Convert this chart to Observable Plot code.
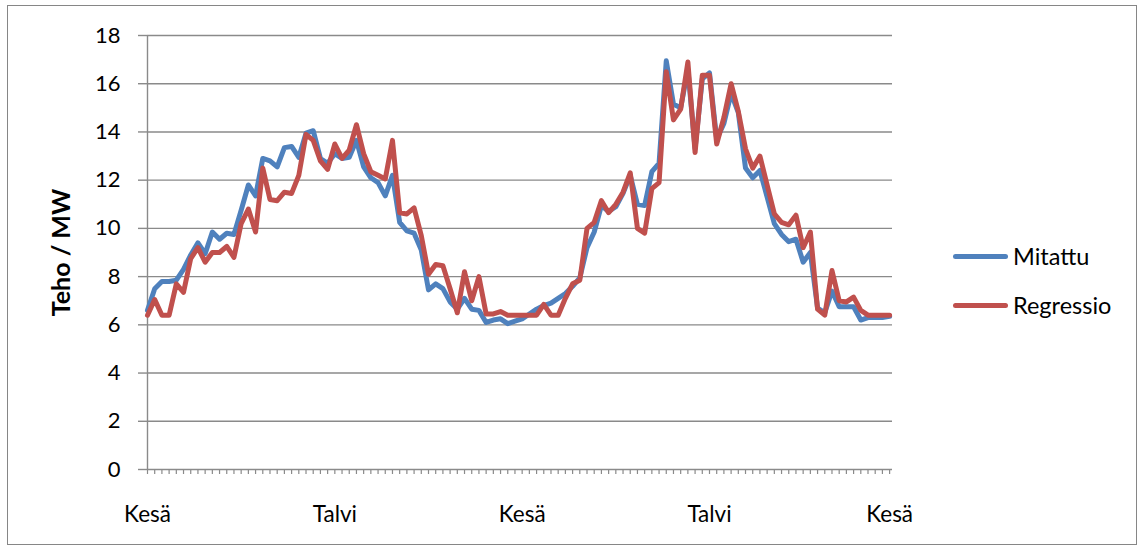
<!DOCTYPE html>
<html>
<head>
<meta charset="utf-8">
<script src="https://cdn.jsdelivr.net/npm/d3@7"></script>
<script src="https://cdn.jsdelivr.net/npm/@observablehq/plot@0.6"></script>
<style>
  html, body { margin: 0; padding: 0; background: #fff; }
  #wrap { position: relative; width: 1144px; height: 551px; font-family: Lato, "Open Sans", sans-serif; }
  #border { position: absolute; left: 7px; top: 5px; width: 1130px; height: 540px; border: 1px solid #868686; box-sizing: border-box; pointer-events: none; }
  .leg { position: absolute; left: 953px; display: flex; align-items: center; font-size: 23.5px; color: #000; }
  .leg span.sw { display: inline-block; width: 55px; height: 5px; border-radius: 3px; margin-right: 5px; }
</style>
</head>
<body>
<div id="wrap">
  <div id="border"></div>
  <div id="chart"></div>
  <div id="legend"></div>
</div>
<script>
// Series names and colours
const seriesNames = ["Mitattu", "Regressio"];
const seriesColors = ["#4F81BD", "#C0504D"];

// Weekly values (MW), 104 points over two years
const mitattu = [
  6.6, 7.5, 7.8, 7.8, 7.85, 8.3, 8.9, 9.4, 8.95, 9.85,
  9.55, 9.8, 9.75, 10.75, 11.8, 11.35, 12.9, 12.8, 12.55, 13.35,
  13.4, 12.95, 13.95, 14.05, 12.9, 12.7, 13.1, 12.9, 12.95, 13.65,
  12.55, 12.1, 11.9, 11.35, 12.2, 10.25, 9.9, 9.8, 9.1, 7.45,
  7.7, 7.5, 6.95, 6.65, 7.1, 6.65, 6.6, 6.1, 6.2, 6.25,
  6.05, 6.15, 6.25, 6.45, 6.65, 6.8, 6.9, 7.1, 7.3, 7.6,
  7.95, 9.2, 9.85, 10.95, 10.7, 10.9, 11.45, 12.2, 11.0, 10.95,
  12.35, 12.7, 16.95, 15.15, 15.0, 16.6, 13.3, 16.2, 16.45, 13.7,
  14.35, 15.6, 14.8, 12.5, 12.1, 12.4, 11.3, 10.2, 9.75, 9.45,
  9.55, 8.6, 9.0, 6.7, 6.5, 7.4, 6.75, 6.75, 6.75, 6.2,
  6.3, 6.3, 6.3, 6.35
];
const regressio = [
  6.4, 7.05, 6.4, 6.4, 7.7, 7.35, 8.75, 9.2, 8.6, 9.0,
  9.0, 9.25, 8.8, 10.2, 10.8, 9.85, 12.5, 11.2, 11.15, 11.5,
  11.45, 12.2, 13.9, 13.65, 12.8, 12.45, 13.5, 12.9, 13.25, 14.3,
  13.1, 12.35, 12.2, 12.05, 13.65, 10.65, 10.6, 10.85, 9.7, 8.1,
  8.5, 8.45, 7.5, 6.5, 8.2, 7.0, 8.0, 6.45, 6.45, 6.55,
  6.4, 6.4, 6.4, 6.4, 6.4, 6.85, 6.4, 6.4, 7.1, 7.7,
  7.85, 10.0, 10.25, 11.15, 10.65, 11.0, 11.5, 12.3, 10.0, 9.8,
  11.65, 11.9, 16.5, 14.5, 14.95, 16.9, 13.15, 16.35, 16.35, 13.5,
  14.6, 16.0, 14.85, 13.3, 12.5, 13.0, 11.8, 10.6, 10.25, 10.15,
  10.55, 9.2, 9.85, 6.65, 6.4, 8.25, 7.0, 6.95, 7.15, 6.6,
  6.4, 6.4, 6.4, 6.4
];

// Category labels (index -> text)
const labelIndex = [0, 26, 52, 78, 103];
const labelText = ["Kesä", "Talvi", "Kesä", "Talvi", "Kesä"];
const yTicks = [0, 2, 4, 6, 8, 10, 12, 14, 16, 18];
const yTitle = "Teho / MW";

const weeks = d3.range(mitattu.length);
const data = [];
weeks.forEach(i => {
  data.push({week: i, value: mitattu[i], series: seriesNames[0]});
});
weeks.forEach(i => {
  data.push({week: i, value: regressio[i], series: seriesNames[1]});
});

const grid = "#8a8a8a";

const chart = Plot.plot({
  width: 1144,
  height: 551,
  marginLeft: 147,
  marginRight: 252,
  marginTop: 35,
  marginBottom: 82,
  style: {fontFamily: "Lato, 'Open Sans', sans-serif", fontSize: "21px", color: "#000", background: "transparent"},
  x: {domain: [0, weeks.length - 1 + 0.4]},
  y: {domain: [0, 18]},
  color: {domain: seriesNames, range: seriesColors},
  marks: [
    Plot.ruleY(yTicks, {stroke: grid, strokeWidth: 1.4}),
    Plot.ruleX([0], {stroke: grid, strokeWidth: 1.4}),
    Plot.axisX({ticks: weeks, tickSize: 5, tickFormat: () => "", stroke: grid, strokeWidth: 1.2, label: null}),
    Plot.axisX({ticks: labelIndex, tickSize: 0, tickPadding: 37, tickFormat: i => labelText[labelIndex.indexOf(i)], fontSize: 22.5, fill: "#000", label: null}),
    Plot.axisY({ticks: yTicks, tickSize: 9, tickPadding: 18, stroke: grid, strokeWidth: 1.4, fontSize: 22, fill: "#000", label: null}),
    Plot.lineY(data, {x: "week", y: "value", stroke: "series", z: "series", strokeWidth: 5, strokeLinejoin: "round", strokeLinecap: "round"}),
    Plot.text([yTitle], {frameAnchor: "left", textAnchor: "middle", rotate: -90, dx: -86, fontWeight: "bold", fontSize: 25, fill: "#000"})
  ]
});
document.getElementById("chart").appendChild(chart);

// Legend
const leg = document.getElementById("legend");
const legTops = [256, 305];
seriesNames.forEach((name, k) => {
  const row = document.createElement("div");
  row.className = "leg";
  row.style.top = (legTops[k] - 14) + "px";
  row.style.height = "28px";
  const sw = document.createElement("span");
  sw.className = "sw";
  sw.style.background = seriesColors[k];
  row.appendChild(sw);
  const t = document.createElement("span");
  t.textContent = name;
  row.appendChild(t);
  leg.appendChild(row);
});
</script>
</body>
</html>
